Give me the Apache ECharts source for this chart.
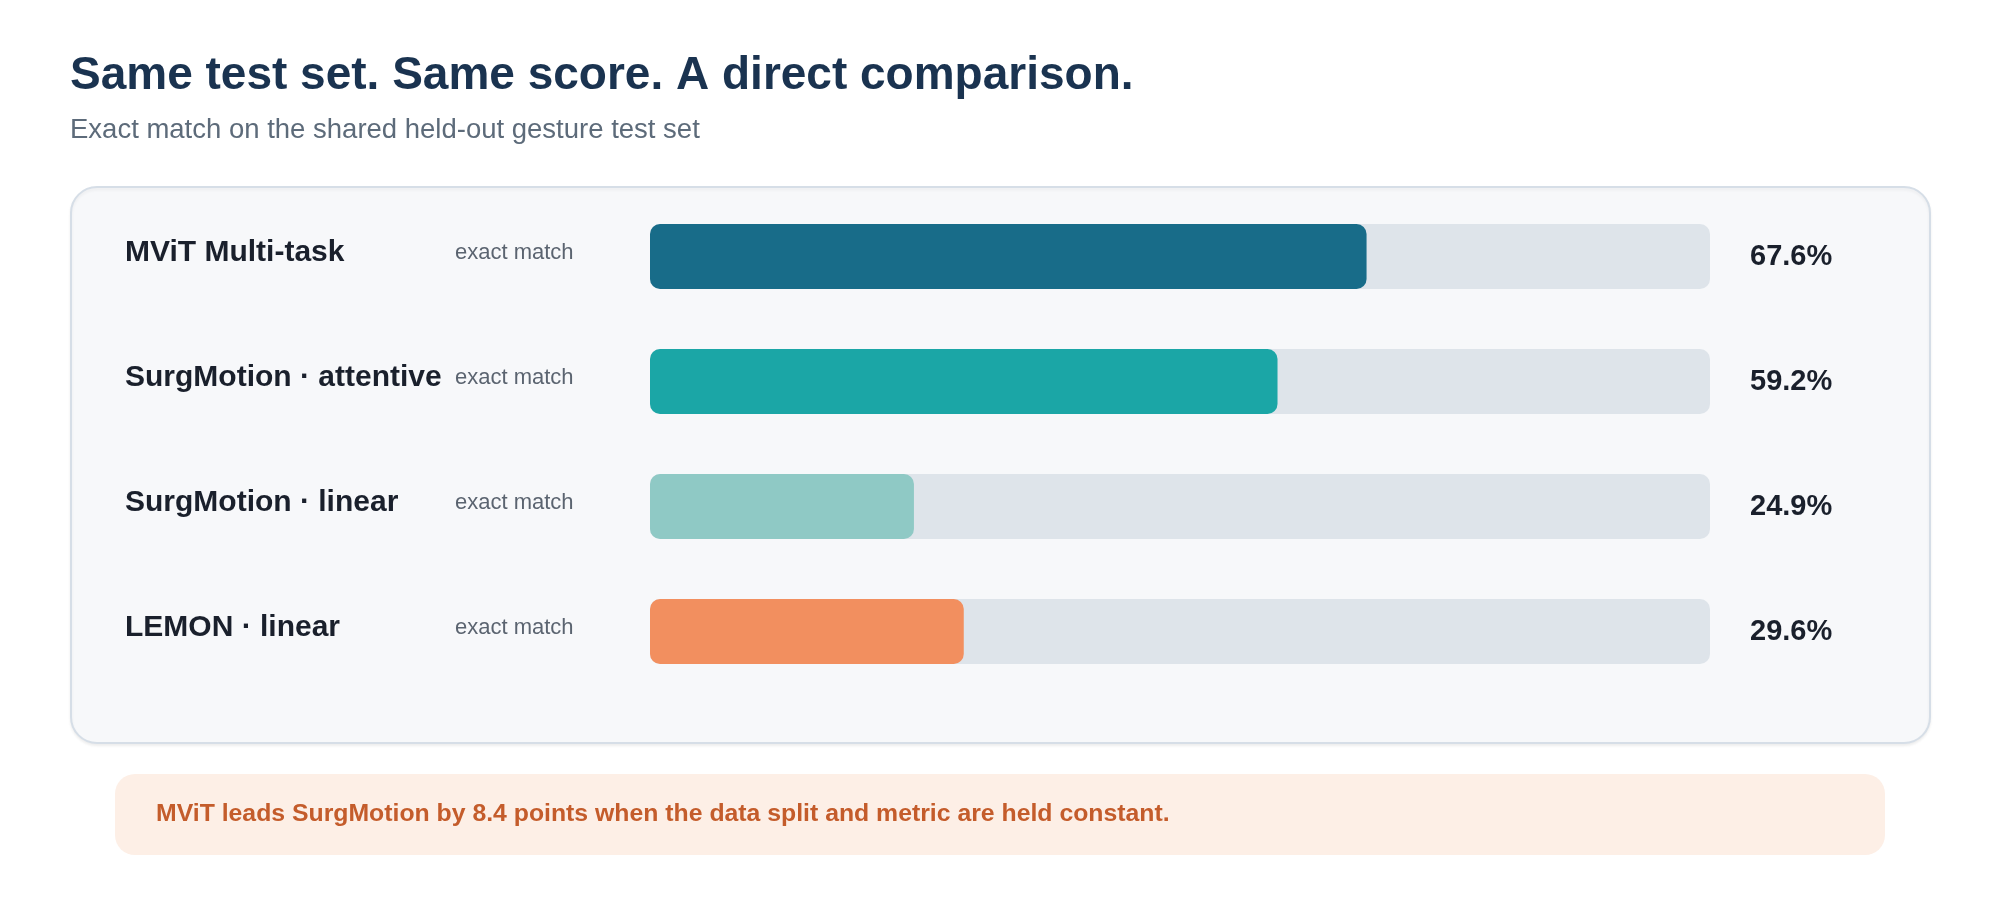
<!DOCTYPE html>
<html>
  <head>
    <meta charset="UTF-8" />
    <title>Same test set comparison</title>
    <script src="https://cdn.jsdelivr.net/npm/echarts@6.0.0/dist/echarts.min.js"></script>
    <style>
      body { margin: 0; background: #ffffff; }
    </style>
  </head>
  <body>
    <div id="chart" style="width: 2000px; height: 920px"></div>
  </body>
  <script>
    const models = ['MViT Multi-task', 'SurgMotion · attentive', 'SurgMotion · linear', 'LEMON · linear'];
    const metricLabel = 'exact match';
    const exactMatch = [67.6, 59.2, 24.9, 29.6];
    const barColors = ['#186c89', '#1ba6a6', '#8fc9c5', '#f28f5f'];

    const font = 'Liberation Sans, Arial, sans-serif';
    let myChart = echarts.init(document.getElementById('chart'));

    myChart.setOption({
      backgroundColor: '#ffffff',
      textStyle: { fontFamily: font },
      graphic: [
        { // title + subtitle
          type: 'text', left: 70, top: 53,
          style: { text: 'Same test set. Same score. A direct comparison.', fill: '#1a3350', font: 'bold 46px ' + font }
        },
        {
          type: 'text', left: 70, top: 116,
          style: { text: 'Exact match on the shared held-out gesture test set', fill: '#5d6b7a', font: '27.5px ' + font }
        },
        { // card behind the bars
          type: 'rect', z: -10,
          shape: { x: 71, y: 187, width: 1859, height: 556, r: 26 },
          style: { fill: '#f7f8fa', stroke: '#d6dee7', lineWidth: 2, shadowColor: 'rgba(0,0,0,0.06)', shadowBlur: 3, shadowOffsetY: 2 }
        },
        { // takeaway note
          type: 'rect', z: -10,
          shape: { x: 115, y: 774, width: 1770, height: 81, r: 20 },
          style: { fill: '#fdefe6' }
        },
        {
          type: 'text', left: 156, top: 802,
          style: { text: 'MViT leads SurgMotion by 8.4 points when the data split and metric are held constant.', fill: '#c45c2b', font: 'bold 24.8px ' + font }
        }
      ],
      grid: { left: 650, width: 1060, top: 194, height: 500 },
      xAxis: { type: 'value', min: 0, max: 100, show: false },
      yAxis: [
        {
          type: 'category', inverse: true, data: models,
          axisLine: { show: false }, axisTick: { show: false },
          axisLabel: {
            align: 'left', margin: 525, padding: [0, 0, 8, 0],
            formatter: v => '{name|' + v + '}{sub|' + metricLabel + '}',
            rich: {
              name: { width: 330, fontSize: 30, fontWeight: 'bold', color: '#1a202c', fontFamily: font },
              sub: { fontSize: 22, color: '#5b6470', fontFamily: font }
            }
          }
        },
        {
          type: 'category', inverse: true, data: models, position: 'right',
          axisLine: { show: false }, axisTick: { show: false },
          axisLabel: {
            align: 'left', margin: 40, padding: [0, 0, 9, 0],
            formatter: (v, i) => exactMatch[i].toFixed(1) + '%',
            fontSize: 29, fontWeight: 'bold', color: '#1a202c', fontFamily: font
          }
        }
      ],
      series: [
        {
          type: 'bar', barWidth: 65,
          data: exactMatch.map((v, i) => ({ value: v, itemStyle: { color: barColors[i] } })),
          itemStyle: { borderRadius: 10 },
          showBackground: true,
          backgroundStyle: { color: '#dee4ea', borderRadius: 10 }
        }
      ]
    });
  </script>
</html>
